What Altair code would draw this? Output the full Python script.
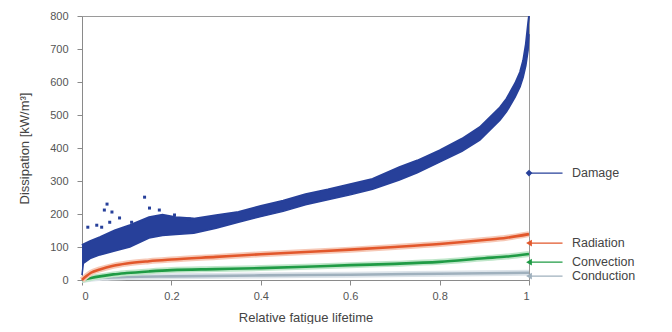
import altair as alt
import pandas as pd

# Damage band (dense point cloud)
damage_x = [0.0, 0.003, 0.018, 0.04, 0.073, 0.107, 0.15, 0.18, 0.21, 0.25, 0.30, 0.35, 0.40,
            0.45, 0.50, 0.55, 0.60, 0.65, 0.71, 0.75, 0.80, 0.85, 0.89, 0.935, 0.95, 0.969,
            0.98, 0.987, 0.993, 0.998, 1.0]
damage_lo = [15, 50, 65, 76, 88, 100, 127, 135, 138, 142, 157, 175, 192,
             208, 228, 243, 258, 275, 303, 325, 357, 390, 424, 484, 510, 554,
             585, 614, 650, 696, 745]
damage_hi = [105, 108, 118, 130, 150, 166, 190, 198, 190, 186, 196, 206, 224,
             240, 260, 274, 290, 306, 342, 362, 393, 428, 463, 523, 550, 596,
             630, 665, 715, 777, 800]
# scattered outliers of the damage cloud
outlier_x = [0.056, 0.067, 0.013, 0.033, 0.044, 0.062, 0.14, 0.151, 0.173, 0.207, 0.24, 0.111, 0.05, 0.084]
outlier_y = [230, 206, 160, 166, 160, 175, 251, 218, 212, 197, 185, 175, 212, 188]

rad_x = [0, 0.01, 0.02, 0.04, 0.07, 0.1, 0.15, 0.2, 0.3, 0.4, 0.5, 0.6, 0.7, 0.8, 0.9, 0.95, 1.0]
rad_y = [0, 12, 22, 32, 43, 50, 57, 62, 70, 78, 85, 92, 100, 109, 121, 128, 139]

conv_x = [0, 0.02, 0.04, 0.07, 0.1, 0.15, 0.2, 0.3, 0.4, 0.5, 0.6, 0.7, 0.8, 0.9, 0.95, 1.0]
conv_y = [0, 6, 11, 17, 21, 26, 30, 33, 36, 40, 45, 49, 55, 66, 71, 79]

cond_x = [0, 0.02, 0.05, 0.1, 0.2, 0.4, 0.6, 0.8, 1.0]
cond_y = [0, 4, 7, 9, 11, 14, 16, 19, 22]

legend_labels = ["Damage", "Radiation", "Convection", "Conduction"]
legend_y = [324, 112, 54, 12]
legend_colors = ["#27409a", "#e2572b", "#1f9b45", "#9fb0bd"]
legend_shapes = ["diamond", "triangle-left", "triangle-left", "triangle-left"]

x_ticks = [0, 0.2, 0.4, 0.6, 0.8, 1]
y_ticks = [0, 100, 200, 300, 400, 500, 600, 700, 800]

BLUE, ORANGE, GREEN, GRAY = legend_colors

xs = alt.Scale(domain=[0, 1], nice=False)
ys = alt.Scale(domain=[0, 800], nice=False)

X_AXIS = alt.Axis(values=x_ticks, format="~g", title="Relative fatigue lifetime",
                  grid=False, tickSize=5, labelPadding=5, titlePadding=10,
                  labelOverlap=False, domainColor="#8a8a8a", tickColor="#8a8a8a")
Y_AXIS = alt.Axis(values=y_ticks, title="Dissipation [kW/m³]", grid=False,
                  tickSize=5, labelPadding=9, titlePadding=18,
                  labelOverlap=False, domainColor="#8a8a8a", tickColor="#8a8a8a")

X = alt.X("x:Q", scale=xs, axis=X_AXIS)
Y = alt.Y("y:Q", scale=ys, axis=Y_AXIS)

dmg = pd.DataFrame({"x": damage_x, "y": damage_lo, "y2": damage_hi})
band = alt.Chart(dmg).mark_area(color=BLUE, opacity=1, line={"color": BLUE, "strokeWidth": 1.5}).encode(
    x=X, y=Y, y2="y2:Q")
band_top = alt.Chart(dmg).mark_line(color=BLUE, strokeWidth=2).encode(
    x=X, y=alt.Y("y2:Q", scale=ys, axis=Y_AXIS))

outl = alt.Chart(pd.DataFrame({"x": outlier_x, "y": outlier_y})).mark_square(
    color=BLUE, size=9, opacity=1).encode(x=X, y=Y)

def curve(xv, yv, color, halo):
    df = pd.DataFrame({"x": xv, "y": yv})
    h = alt.Chart(df).mark_line(color=halo, strokeWidth=6, interpolate="monotone").encode(x=X, y=Y)
    l = alt.Chart(df).mark_line(color=color, strokeWidth=2.6, interpolate="monotone").encode(x=X, y=Y)
    return h + l

rad = curve(rad_x, rad_y, ORANGE, "#f6c8b6")
conv = curve(conv_x, conv_y, GREEN, "#bfe6c9")
cond = curve(cond_x, cond_y, GRAY, "#dde4ea")

leg = pd.DataFrame({"label": legend_labels, "y": legend_y, "color": legend_colors,
                    "shape": legend_shapes})
leg["x0"] = 1.0
leg["x1"] = 1.075
leg["xt"] = 1.096
LX0 = alt.X("x0:Q", scale=xs, axis=X_AXIS)
LY = alt.Y("y:Q", scale=ys, axis=Y_AXIS)
leg_lines = alt.Chart(leg).mark_rule(strokeWidth=1.2).encode(
    x=LX0, x2="x1:Q", y=LY, color=alt.Color("color:N", scale=None))
leg_marks = alt.Chart(leg).mark_point(filled=True, size=45, opacity=1).encode(
    x=LX0, y=LY, color=alt.Color("color:N", scale=None), shape=alt.Shape("shape:N", scale=None))
leg_text = alt.Chart(leg).mark_text(align="left", baseline="middle", fontSize=12.5,
                                    color="#444444", font="Liberation Sans").encode(
    x=alt.X("xt:Q", scale=xs, axis=X_AXIS), y=LY, text="label:N")

chart = alt.layer(cond, conv, rad, band, band_top, outl, leg_lines, leg_marks, leg_text).properties(
    width=447, height=264,
    autosize=alt.AutoSizeParams(type="none"),
    padding={"left": 74, "top": 8, "right": 133, "bottom": 44},
).configure_view(stroke="#9a9a9a", strokeWidth=1).configure_axis(
    labelFont="Liberation Sans", titleFont="Liberation Sans", labelFontSize=11, titleFontSize=13,
    labelColor="#555555", titleColor="#444444", titleFontWeight="normal"
)

chart.save("out.html", embed_options={"renderer": "svg", "actions": False})
